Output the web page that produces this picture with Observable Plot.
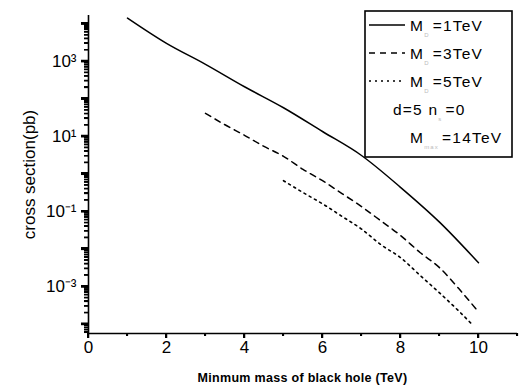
<!DOCTYPE html>
<html>
<head>
<meta charset="utf-8">
<script src="https://cdn.jsdelivr.net/npm/d3@7"></script>
<script src="https://cdn.jsdelivr.net/npm/@observablehq/plot@0.6"></script>
<style>
  html, body { margin: 0; padding: 0; background: #fff; }
  #wrap { position: relative; width: 521px; height: 389px; font-family: "Liberation Sans", Arial, sans-serif; }
  #wrap svg { position: absolute; left: 0; top: 0; }
  #ticks { position: absolute; left: 0; top: 0; width: 521px; height: 389px; pointer-events: none; }
  #ticks div { position: absolute; background: #000; }
</style>
</head>
<body>
<div id="wrap"></div>
<script>
// ---- data ----
const m1X = [1, 2, 3, 4, 5, 6, 7, 8, 9, 10];
const m1Y = [1.41e4, 3.0e3, 830, 210, 58, 13.5, 3.1, 0.44, 0.052, 0.0043];

const m3X = [3, 3.5, 4, 4.5, 5, 5.5, 6, 6.5, 7, 7.5, 8, 8.5, 9, 9.5, 10];
const m3Y = [41, 20.4, 10.7, 5.4, 2.95, 1.32, 0.66, 0.30, 0.135, 0.056, 0.023, 0.0081, 0.0032, 8.7e-4, 2.1e-4];

const m5X = [5, 5.5, 6, 6.5, 7, 7.5, 8, 8.5, 9, 9.5, 9.85];
const m5Y = [0.66, 0.32, 0.16, 0.074, 0.034, 0.013, 0.0059, 0.0020, 6.8e-4, 2.2e-4, 9.5e-5];

const xMajorTicks = [0, 2, 4, 6, 8, 10];
const xMinorTicks = [1, 3, 5, 7, 9, 11];
const yDecades = [-4, -3, -2, -1, 0, 1, 2, 3, 4];
const yLabelDecades = [3, 1, -1, -3];
const legendLabels = [
  {main: "M", sub: "D", rest: "=1TeV"},
  {main: "M", sub: "D", rest: "=3TeV"},
  {main: "M", sub: "D", rest: "=5TeV"},
  {main: "d=5  n", sub: "s", rest: "=0"},
  {main: "M", sub: "max", rest: "=14TeV"}
];
const legendDash = [null, "6,5", "2,4"];
const xTitle = "Minmum mass of black hole (TeV)";
const yTitle = "cross section(pb)";

// ---- build ----
const W = 521, H = 389, mL = 88, mR = 4;
const xDomain = [0, 11];
const pxPerX = (W - mL - mR) / (xDomain[1] - xDomain[0]);
const toRows = (xs, ys) => xs.map((x, i) => ({x, y: ys[i]}));
const rows1 = toRows(m1X, m1Y), rows3 = toRows(m3X, m3Y), rows5 = toRows(m5X, m5Y);

const yMin = Math.pow(10, -4.25), yMax = Math.pow(10, 4.22);
const pxPerDecade = 37.5;
const yMajor = yDecades.map(d => Math.pow(10, d));
const yMinor = [];
for (const d of yDecades.concat([-5])) for (let k = 2; k <= 9; k++) {
  const v = k * Math.pow(10, d);
  if (v > yMin && v < yMax) yMinor.push(v);
}
const sup = {"-": "\u207B", "0": "\u2070", "1": "\u00B9", "2": "\u00B2", "3": "\u00B3", "4": "\u2074"};
const fmtPow = v => "10" + String(Math.round(Math.log10(v))).split("").map(c => sup[c]).join("");

const chart = Plot.plot({
  width: W, height: H,
  marginLeft: mL, marginRight: mR, marginTop: 15, marginBottom: 56,
  style: {fontFamily: "'Liberation Sans', Arial, sans-serif", color: "#000"},
  x: {domain: xDomain},
  y: {type: "log", domain: [yMin, yMax]},
  marks: [
    // ticks as short rules
    Plot.ruleY(yMinor, {y: d => d, x1: -4 / pxPerX, x2: 0, stroke: "#000", strokeWidth: 1.2}),
    Plot.ruleY(yMajor, {y: d => d, x1: -7 / pxPerX, x2: 0, stroke: "#000", strokeWidth: 2.2}),
    Plot.ruleX(xMinorTicks, {x: d => d, y1: yMin, y2: yMin * Math.pow(10, -3 / pxPerDecade), stroke: "#000", strokeWidth: 1.2}),
    Plot.ruleX(xMajorTicks, {x: d => d, y1: yMin, y2: yMin * Math.pow(10, -5 / pxPerDecade), stroke: "#000", strokeWidth: 1.5}),
    // axis lines
    Plot.ruleX([0], {stroke: "#000", strokeWidth: 1.6}),
    Plot.ruleY([yMin], {stroke: "#000", strokeWidth: 1.6}),
    // tick labels (+ y title)
    Plot.axisY({ticks: yLabelDecades.map(d => Math.pow(10, d)), tickSize: 0, tickPadding: 12, tickFormat: fmtPow,
      fontSize: 17, label: yTitle, labelAnchor: "center", labelOffset: 66, labelArrow: "none"}),
    Plot.axisX({ticks: xMajorTicks, tickSize: 0, tickPadding: 7, tickFormat: d => String(d), fontSize: 17, label: null}),
    // curves
    Plot.line(rows1, {x: "x", y: "y", stroke: "#000", strokeWidth: 1.5, curve: "monotone-x"}),
    Plot.line(rows3, {x: "x", y: "y", stroke: "#000", strokeWidth: 1.5, strokeDasharray: "6,5", curve: "monotone-x"}),
    Plot.line(rows5, {x: "x", y: "y", stroke: "#000", strokeWidth: 1.6, strokeDasharray: "2,4", curve: "monotone-x"})
  ]
});
document.getElementById("wrap").appendChild(chart);

// ---- overlay: legend and x title ----
const sx = chart.scale("x"), sy = chart.scale("y");
const x0px = sx.apply(0), y0px = sy.apply(yMin);
const ov = d3.select("#wrap").append("svg").attr("width", W).attr("height", H)
  .style("font-family", "'Liberation Sans', Arial, sans-serif");

ov.append("rect").attr("x", 365).attr("y", 11).attr("width", 147).attr("height", 146)
  .attr("fill", "#fff").attr("stroke", "#000").attr("stroke-width", 1.6);
const rowY = [25, 53, 81, 109, 137];
legendLabels.forEach((lab, i) => {
  const y = rowY[i];
  if (i < 3) {
    const l = ov.append("line").attr("x1", 369).attr("x2", 405).attr("y1", y).attr("y2", y)
      .attr("stroke", "#000").attr("stroke-width", 1.5);
    if (legendDash[i]) l.attr("stroke-dasharray", legendDash[i]);
  }
  const tx = i === 3 ? 393 : 410;
  const t = ov.append("text").attr("x", tx).attr("y", y + 5.5).attr("font-size", 15.5)
    .attr("letter-spacing", 1.2).attr("fill", "#000");
  t.append("tspan").text(lab.main);
  t.append("tspan").attr("dy", 6).attr("font-size", 6).attr("fill", "#bbb").text(lab.sub);
  t.append("tspan").attr("dy", -6).attr("dx", 3).text(lab.rest);
});

ov.append("text").attr("x", (sx.apply(xDomain[0]) + sx.apply(xDomain[1])) / 2).attr("y", 382)
  .attr("text-anchor", "middle").attr("font-size", 12.5).attr("font-weight", "bold")
  .attr("letter-spacing", 0.3).attr("fill", "#000").text(xTitle);

// ---- ticks again as one SVG path and as HTML boxes, placed with the chart's scales ----
let pth = "";
yMinor.forEach(v => { const y = sy.apply(v); pth += `M${x0px - 4},${y - 0.6}h4v1.2h-4Z`; });
yMajor.forEach(v => { const y = sy.apply(v); pth += `M${x0px - 7},${y - 1.1}h7v2.2h-7Z`; });
xMinorTicks.forEach(v => { const x = sx.apply(v); pth += `M${x - 0.6},${y0px}h1.2v3h-1.2Z`; });
xMajorTicks.forEach(v => { const x = sx.apply(v); pth += `M${x - 0.75},${y0px}h1.5v5h-1.5Z`; });
ov.append("path").attr("d", pth).attr("fill", "#000");

const tk = d3.select("#wrap").append("div").attr("id", "ticks");
const box = (l, t, w, h) => tk.append("div").style("left", l + "px").style("top", t + "px")
  .style("width", w + "px").style("height", h + "px");
yMinor.forEach(v => box(x0px - 4, sy.apply(v) - 0.6, 4, 1.2));
yMajor.forEach(v => box(x0px - 7, sy.apply(v) - 1.1, 7, 2.2));
xMinorTicks.forEach(v => box(sx.apply(v) - 0.6, y0px, 1.2, 3));
xMajorTicks.forEach(v => box(sx.apply(v) - 0.75, y0px, 1.5, 5));
</script>
</body>
</html>
